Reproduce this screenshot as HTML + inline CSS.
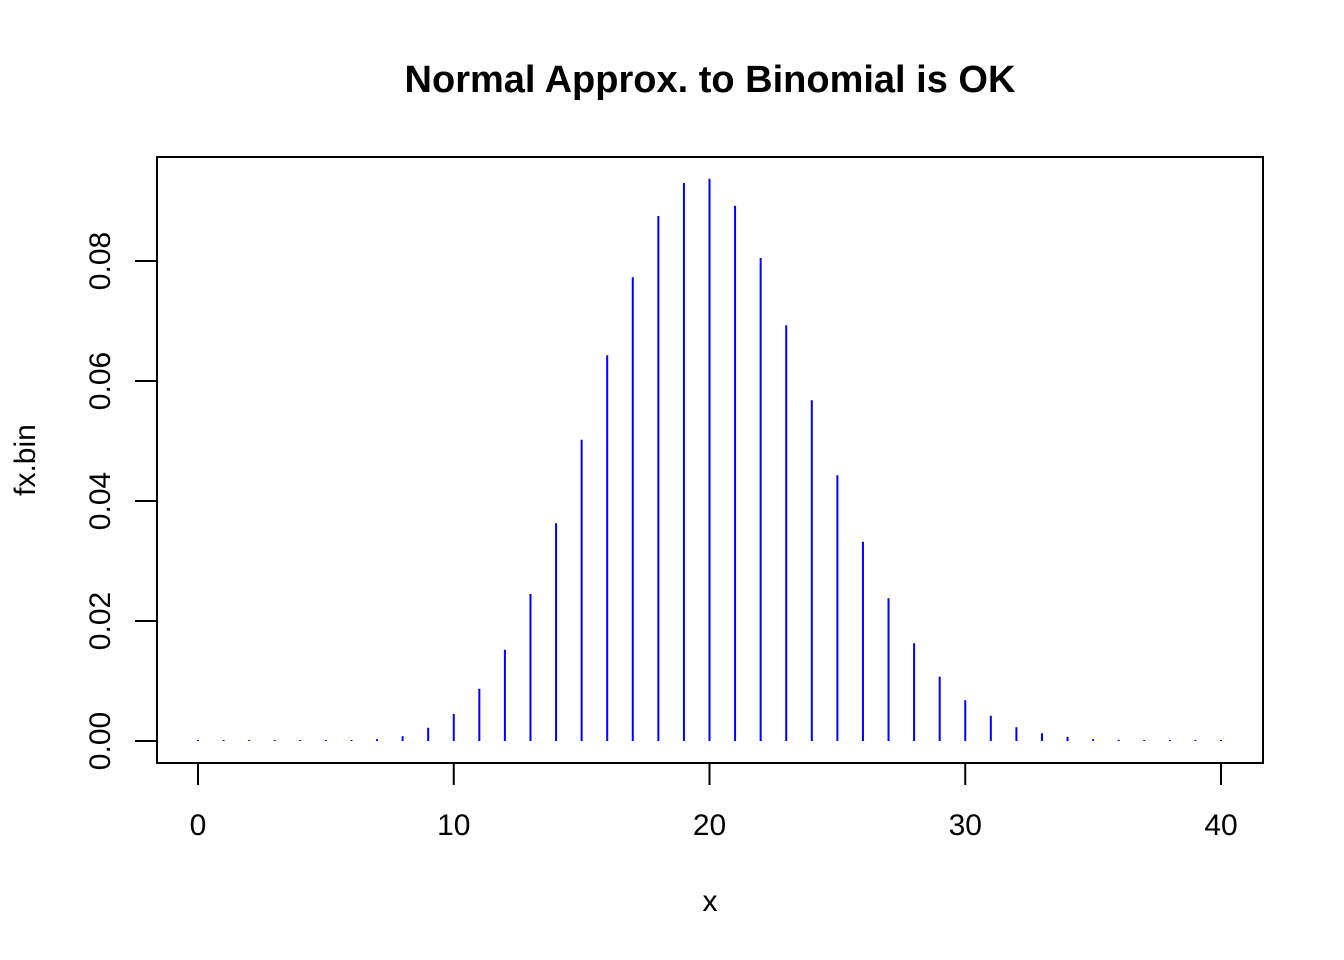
<!DOCTYPE html>
<html><head><meta charset="utf-8"><style>
body{margin:0;background:#fff}
svg{display:block;font-family:"Liberation Sans",Arial,sans-serif}
</style></head><body>
<svg id="chart" width="1344" height="960">
<text x="710" y="92" text-anchor="middle" font-size="38" font-weight="bold">Normal Approx. to Binomial is OK</text>
<rect x="157" y="157" width="1106" height="606" fill="none" stroke="#000" stroke-width="2"/>
<g id="xaxis"></g>
<g id="yaxis"></g>
<g id="bars"></g>
<text x="710" y="911" text-anchor="middle" font-size="30">x</text>
<text transform="translate(35,460) rotate(-90)" text-anchor="middle" font-size="30">fx.bin</text>
</svg>
<script>
const xs = [0,1,2,3,4,5,6,7,8,9,10,11,12,13,14,15,16,17,18,19,20,21,22,23,24,25,26,27,28,29,30,31,32,33,34,35,36,37,38,39,40];
const probs = [0.00001,0.00001,0.00001,0.00001,0.00001,0.00001,0.00001,0.0003,0.0008,0.0022,0.0045,0.0087,0.0152,0.0245,0.0363,0.0502,0.0643,0.0773,0.0875,0.093,0.0937,0.0892,0.0805,0.0693,0.0568,0.0443,0.0332,0.0238,0.0163,0.0107,0.0068,0.0042,0.0023,0.0013,0.0007,0.0003,0.0002,0.00001,0.00001,0.00001,0.00001];
const xTicks = [0,10,20,30,40];
const yTicks = [0,0.02,0.04,0.06,0.08];
const yTickLabels = ["0.00","0.02","0.04","0.06","0.08"];
const NS="http://www.w3.org/2000/svg";
const X = v => 198 + v*(1221-198)/40;
const Y = v => 741 - v*(741-261)/0.08;
function mk(tag, attrs, parent){const e=document.createElementNS(NS,tag);for(const k in attrs)e.setAttribute(k,attrs[k]);parent.appendChild(e);return e;}
const xa=document.getElementById('xaxis'), ya=document.getElementById('yaxis'), bg=document.getElementById('bars');
mk('line',{x1:X(0),x2:X(40),y1:763,y2:763,stroke:'#000','stroke-width':2},xa);
xTicks.forEach(t=>{
  const l=mk('line',{x1:X(t),x2:X(t),y1:763,y2:785,stroke:'#000','stroke-width':2},xa);
  
  
  const tx=mk('text',{x:X(t),y:835,'text-anchor':'middle','font-size':30},xa);
  tx.textContent=t;
  
  
});
yTicks.forEach((t,i)=>{
  const l=mk('line',{x1:135,x2:157,y1:Y(t),y2:Y(t),stroke:'#000','stroke-width':2},ya);
  
  
  const tx=mk('text',{transform:`translate(110,${Y(t)}) rotate(-90)`,'text-anchor':'middle','font-size':30},ya);
  tx.textContent=yTickLabels[i];
  
  
});
mk('line',{x1:157,x2:157,y1:Y(0),y2:Y(0.08),stroke:'#000','stroke-width':2},ya);
xs.forEach((x,i)=>{
  const b=mk('line',{x1:X(x),x2:X(x),y1:Y(0),y2:Math.min(Y(probs[i]),Y(0)-1),stroke:'#0000ff','stroke-width':2},bg);
  
  
});
</script>
</body></html>
